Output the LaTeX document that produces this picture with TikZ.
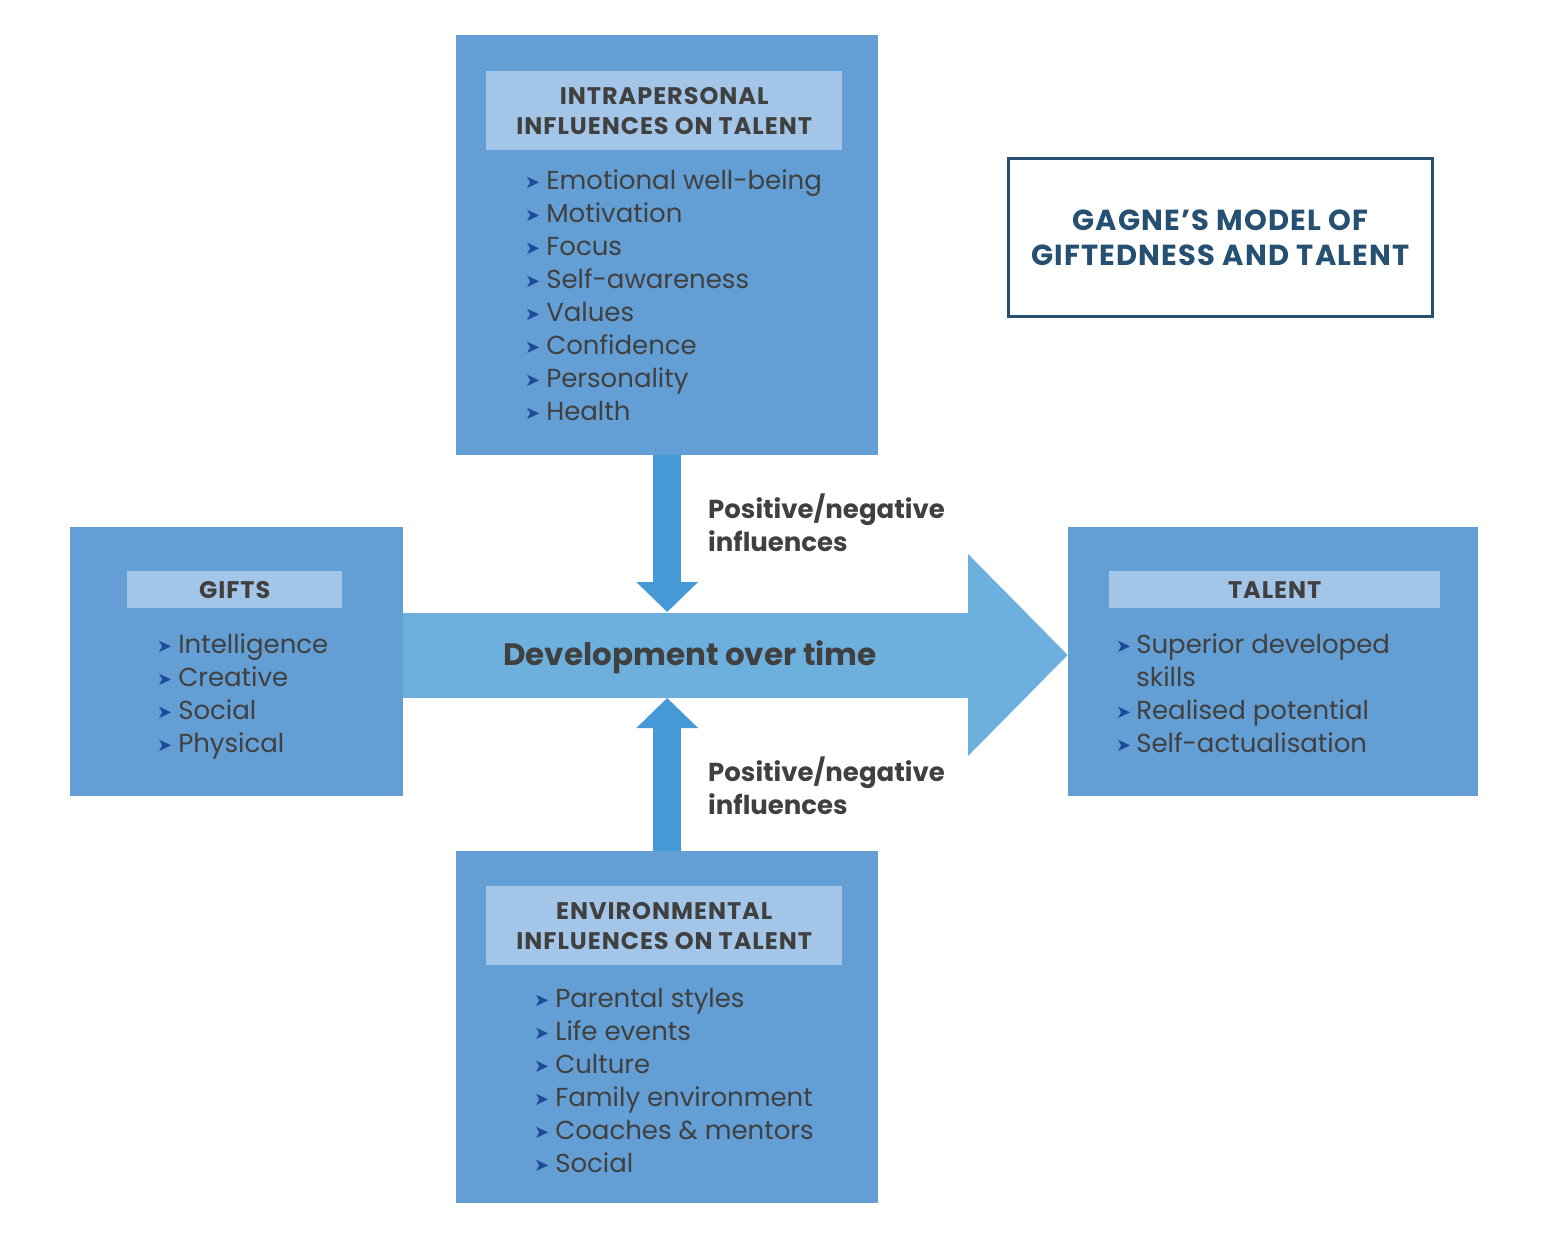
\documentclass[tikz,border=0pt]{standalone}
\usepackage{fontspec}
\setmainfont{Poppins}
\newfontfamily\symfont{DejaVu Sans}
\newfontfamily\capsfont[LetterSpace=4]{Poppins}
\usetikzlibrary{arrows.meta,positioning}

\definecolor{panelblue}{RGB}{99,158,212}
\definecolor{headblue}{RGB}{163,198,232}
\definecolor{devblue}{RGB}{109,176,221}
\definecolor{infblue}{RGB}{69,153,214}
\definecolor{textgray}{RGB}{64,64,64}
\definecolor{bulletblue}{RGB}{30,74,154}
\definecolor{titleblue}{RGB}{38,80,114}

\newcommand{\bul}{\raisebox{1pt}{\symfont\fontsize{18}{18}\selectfont\color{bulletblue}➤}}
\newcommand{\itemfont}{\fontsize{26}{33}\selectfont}
\newcommand{\headfont}{\capsfont\fontsize{24}{30}\selectfont\bfseries}

\tikzset{
  panel/.style={fill=panelblue, anchor=north west, inner sep=0pt},
  header/.style={fill=headblue, text=textgray, font=\headfont, align=center,
    anchor=north west, inner sep=0pt},
  items/.style={anchor=north west, inner sep=0pt, text=textgray, font=\itemfont},
  inflabel/.style={anchor=north west, inner sep=0pt, text=textgray, align=left,
    font=\fontsize{26}{33}\selectfont\bfseries},
  infarrow/.style={draw=infblue, line width=28pt,
    -{Triangle[length=30pt,width=60pt]}},
  devarrow/.style={draw=devblue, line width=85pt,
    -{Triangle[length=100pt,width=196pt]}}
}

\begin{document}
\begin{tikzpicture}[x=1pt,y=-1pt]
    \useasboundingbox (0,0) rectangle (1548,1239);

    % panels
    \node[panel, minimum width=422pt, minimum height=420pt] (intra) at (456,35) {};
    \node[panel, minimum width=333pt, minimum height=269pt] (gifts) at (70,527) {};
    \node[panel, minimum width=410pt, minimum height=269pt] (talent) at (1068,527) {};
    \node[panel, minimum width=422pt, minimum height=352pt] (env) at (456,851) {};

    % headers
    \node[header, minimum width=356pt, minimum height=79pt] (intrahead) at (486,71)
        {INTRAPERSONAL\\INFLUENCES ON TALENT};
    \node[header, minimum width=215pt, minimum height=37pt] (giftshead) at (127,571) {GIFTS};
    \node[header, minimum width=331pt, minimum height=37pt] (talenthead) at (1109,571) {TALENT};
    \node[header, minimum width=356pt, minimum height=79pt] (envhead) at (486,886)
        {ENVIRONMENTAL\\INFLUENCES ON TALENT};

    % item lists
    \node[items] (intralist) at (525,166) {\begin{tabular}{@{}l@{\hspace{6pt}}l@{}}
        \bul & Emotional well-being\\
        \bul & Motivation\\
        \bul & Focus\\
        \bul & Self-awareness\\
        \bul & Values\\
        \bul & Confidence\\
        \bul & Personality\\
        \bul & Health
    \end{tabular}};
    \node[items] (giftslist) at (157,630) {\begin{tabular}{@{}l@{\hspace{6pt}}l@{}}
        \bul & Intelligence\\
        \bul & Creative\\
        \bul & Social\\
        \bul & Physical
    \end{tabular}};
    \node[items] (talentlist) at (1116,630) {\begin{tabular}{@{}l@{\hspace{5pt}}l@{}}
        \bul & Superior developed\\
             & skills\\
        \bul & Realised potential\\
        \bul & Self-actualisation
    \end{tabular}};
    \node[items] (envlist) at (534,984) {\begin{tabular}{@{}l@{\hspace{6pt}}l@{}}
        \bul & Parental styles\\
        \bul & Life events\\
        \bul & Culture\\
        \bul & Family environment\\
        \bul & Coaches \& mentors\\
        \bul & Social
    \end{tabular}};

    % title
    \node[draw=titleblue, line width=3pt, minimum width=424pt, minimum height=158pt,
        text=titleblue, align=center, font=\capsfont\fontsize{29}{35}\selectfont\bfseries]
        (title) at (1220.5,237.5) {GAGNE’S MODEL OF\\GIFTEDNESS AND TALENT};

    % development arrow
    \coordinate (devrow) at (0,655);
    \coordinate (devtop) at (0,612);
    \coordinate (devbot) at (0,698);
    \draw[devarrow] (gifts.east |- devrow) -- (talent.west |- devrow);
    \node[text=textgray, font=\fontsize{31}{31}\selectfont\bfseries] (devlabel)
        at (690,657) {Development over time};

    % influences
    \draw[infarrow] (intra.south) -- (intra.south |- devtop);
    \draw[infarrow] (env.north) -- (env.north |- devbot);
    \node[inflabel] (posup) at (708,494) {Positive/negative\\influences};
    \node[inflabel] (posdown) at (708,757) {Positive/negative\\influences};
\end{tikzpicture}
\end{document}
